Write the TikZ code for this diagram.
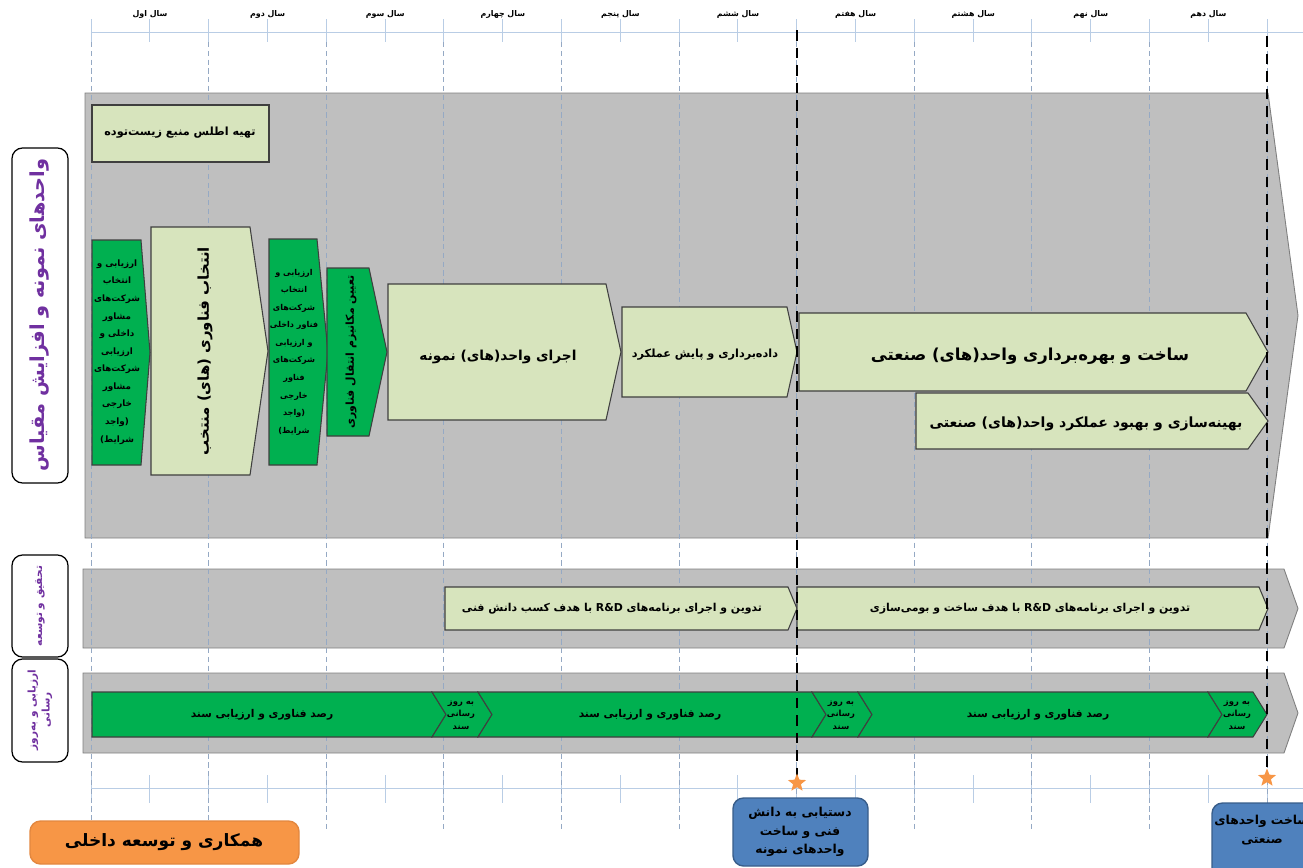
\documentclass[tikz,border=0pt]{standalone}
\usepackage{fontspec}
\newfontfamily\arabicfont[Script=Arabic]{DejaVu Sans}
\TeXXeTstate=1
\usetikzlibrary{shapes.geometric}

\definecolor{panelgray}{HTML}{BFBFBF}
\definecolor{panelline}{HTML}{7F7F7F}
\definecolor{lightgreen}{HTML}{D7E4BD}
\definecolor{stepgreen}{HTML}{00B050}
\definecolor{boxline}{HTML}{3F3F3F}
\definecolor{gridblue}{HTML}{B9CDE5}
\definecolor{gridline}{HTML}{95A9C4}
\definecolor{lanepurple}{HTML}{7030A0}
\definecolor{mileblue}{HTML}{4F81BD}
\definecolor{mileline}{HTML}{385D8A}
\definecolor{coopfill}{HTML}{F79646}
\definecolor{coopline}{HTML}{E3873F}

\newcommand{\rl}[1]{\beginR #1\endR}
\newcommand{\fz}[2]{\fontsize{#1}{#2}\selectfont}
% arrow panel: style, left, top, tip x, bottom, tip depth
\newcommand{\arrowshape}[6]{\filldraw[#1] (#2,#3) -- ({#4-#6},#3) -- (#4,{(#3+#5)/2}) -- ({#4-#6},#5) -- (#2,#5) -- cycle;}
% chevron: style, left, top, right, bottom, tip depth
\newcommand{\chevshape}[6]{\filldraw[#1] (#2,#3) -- (#4,#3) -- ({#4+#6},{(#3+#5)/2}) -- (#4,#5) -- (#2,#5) -- ({#2+#6},{(#3+#5)/2}) -- cycle;}

\tikzset{
  panel/.style={fill=panelgray, draw=panelline, line width=0.5pt},
  lightbox/.style={fill=lightgreen, draw=boxline, line width=0.6pt},
  greenbox/.style={fill=stepgreen, draw=boxline, line width=0.6pt},
  tick/.style={draw=gridblue, line width=0.5pt},
  gridline/.style={draw=gridline, line width=0.4pt, dash pattern=on 3pt off 2pt},
  milestone/.style={draw=black, line width=1.4pt, dash pattern=on 6pt off 4pt},
  txt/.style={font=\arabicfont\bfseries, align=center, inner sep=0pt},
  lanebox/.style={draw=black, fill=white, line width=0.7pt, rounded corners=6pt},
  lanetxt/.style={txt, text=lanepurple, rotate=90},
}

\begin{document}
\begin{tikzpicture}[x=0.02cm, y=-0.02cm]
  \useasboundingbox (0,0) rectangle (1303,867);
  \clip (0,0) rectangle (1303,867);

  % gray lanes
  \arrowshape{panel}{85}{93}{1298}{538}{30}
  \arrowshape{panel}{83}{569}{1298}{648}{14}
  \arrowshape{panel}{83}{673}{1298}{753}{14}

  % time ruler
  \draw[tick] (91,32) -- (1303,32);
  \draw[tick] (91,788) -- (1303,788);
  \foreach \k in {0,...,20} {
    \draw[tick] ({91+58.8*\k},19) -- ({91+58.8*\k},42);
    \draw[tick] ({91+58.8*\k},775) -- ({91+58.8*\k},803);
  }
  \foreach \k in {0,...,10}
    \draw[gridline] ({91+117.6*\k},42) -- ({91+117.6*\k},830);
  \foreach \k/\yr in {0/سال اول, 1/سال دوم, 2/سال سوم, 3/سال چهارم, 4/سال پنجم,
      5/سال ششم, 6/سال هفتم, 7/سال هشتم, 8/سال نهم, 9/سال دهم}
    \node[txt, font=\arabicfont\bfseries\fz{4.5}{6}] (year\k) at ({150+117.6*\k},14) {\rl{\yr}};

  % pilot and scale-up lane
  \filldraw[lightbox] (92,105) rectangle (269,162);
  \node[txt, font=\arabicfont\bfseries\fz{6.4}{8}] (atlas) at (180,133) {\rl{تهیه اطلس منبع زیست‌توده}};

  \arrowshape{greenbox}{92}{240}{150}{465}{9}
  \node[txt, font=\arabicfont\bfseries\fz{5}{10}] (consult) at (117,352)
    {\rl{ارزیابی و}\\\rl{انتخاب}\\\rl{شرکت‌های}\\\rl{مشاور}\\\rl{داخلی و}\\\rl{ارزیابی}\\\rl{شرکت‌های}\\\rl{مشاور}\\\rl{خارجی}\\\rl{(واجد}\\\rl{شرایط)}};

  \arrowshape{lightbox}{151}{227}{268}{475}{18}
  \node[txt, rotate=90, font=\arabicfont\bfseries\fz{8.5}{10}] (techsel) at (205,351) {\rl{انتخاب فناوری (های) منتخب}};

  \arrowshape{greenbox}{269}{239}{328}{465}{11}
  \node[txt, font=\arabicfont\bfseries\fz{4.6}{10}] (vendor) at (294,352)
    {\rl{ارزیابی و}\\\rl{انتخاب}\\\rl{شرکت‌های}\\\rl{فناور داخلی}\\\rl{و ارزیابی}\\\rl{شرکت‌های}\\\rl{فناور}\\\rl{خارجی}\\\rl{(واجد}\\\rl{شرایط)}};

  \arrowshape{greenbox}{327}{268}{387}{436}{18}
  \node[txt, rotate=90, font=\arabicfont\bfseries\fz{6.2}{8}] (transfer) at (351,352) {\rl{تعیین مکانیزم انتقال فناوری}};

  \arrowshape{lightbox}{388}{284}{621}{420}{15}
  \node[txt, font=\arabicfont\bfseries\fz{7.8}{10}] (pilot) at (498,357) {\rl{اجرای واحد(های) نمونه}};

  \arrowshape{lightbox}{622}{307}{797}{397}{10}
  \node[txt, font=\arabicfont\bfseries\fz{6.4}{8}] (monitor) at (705,355) {\rl{داده‌برداری و پایش عملکرد}};

  \arrowshape{lightbox}{799}{313}{1268}{391}{22}
  \node[txt, font=\arabicfont\bfseries\fz{9.4}{11}] (build) at (1030,356) {\rl{ساخت و بهره‌برداری واحد(های) صنعتی}};

  \arrowshape{lightbox}{916}{393}{1268}{449}{20}
  \node[txt, font=\arabicfont\bfseries\fz{8}{10}] (optim) at (1086,424) {\rl{بهینه‌سازی و بهبود عملکرد واحد(های) صنعتی}};

  % R&D lane
  \arrowshape{lightbox}{445}{587}{797}{630}{9}
  \node[txt, font=\arabicfont\bfseries\fz{6.2}{8}] (rdknow) at (612,609) {\rl{تدوین و اجرای برنامه‌های \beginL R\&D\endL{} با هدف کسب دانش فنی}};
  \arrowshape{lightbox}{797}{587}{1268}{630}{9}
  \node[txt, font=\arabicfont\bfseries\fz{6.2}{8}] (rdlocal) at (1030,609) {\rl{تدوین و اجرای برنامه‌های \beginL R\&D\endL{} با هدف ساخت و بومی‌سازی}};

  % assessment lane
  \arrowshape{greenbox}{92}{692}{446}{737}{14}
  \chevshape{greenbox}{432}{692}{478}{737}{14}
  \chevshape{greenbox}{478}{692}{812}{737}{14}
  \chevshape{greenbox}{812}{692}{858}{737}{14}
  \chevshape{greenbox}{858}{692}{1208}{737}{14}
  \chevshape{greenbox}{1208}{692}{1253}{737}{14}
  \node[txt, font=\arabicfont\bfseries\fz{6.1}{8}] (scanA) at (262,715) {\rl{رصد فناوری و ارزیابی سند}};
  \node[txt, font=\arabicfont\bfseries\fz{6.1}{8}] (scanB) at (650,715) {\rl{رصد فناوری و ارزیابی سند}};
  \node[txt, font=\arabicfont\bfseries\fz{6.1}{8}] (scanC) at (1038,715) {\rl{رصد فناوری و ارزیابی سند}};
  \foreach \cx [count=\n] in {461, 841, 1237}
    \node[txt, font=\arabicfont\bfseries\fz{4.8}{7}] (update\n) at (\cx,715) {\rl{به روز}\\\rl{رسانی}\\\rl{سند}};

  % milestone lines
  \draw[milestone] (797,30) -- (797,783);
  \draw[milestone] (1267,36) -- (1267,778);
  \node[star, star points=5, star point ratio=2.3, fill=coopfill, inner sep=0pt, minimum size=0.38cm] (starA) at (797,783) {};
  \node[star, star points=5, star point ratio=2.3, fill=coopfill, inner sep=0pt, minimum size=0.38cm] (starB) at (1267,778) {};

  \filldraw[fill=mileblue, draw=mileline, line width=0.8pt, rounded corners=6pt] (733,798) rectangle (868,866);
  \node[txt, font=\arabicfont\bfseries\fz{7}{10.5}] (knowhow) at (800,832) {\rl{دستیابی به دانش}\\\rl{فنی و ساخت}\\\rl{واحدهای نمونه}};
  \filldraw[fill=mileblue, draw=mileline, line width=0.8pt, rounded corners=6pt] (1212,803) rectangle (1340,880);
  \node[txt, font=\arabicfont\bfseries\fz{7}{10.5}] (industrial) at (1262,830) {\rl{ساخت واحدهای}\\\rl{صنعتی}};

  % lane titles
  \filldraw[lanebox] (12,148) rectangle (68,483);
  \node[lanetxt, font=\arabicfont\bfseries\fz{11}{13}] (laneA) at (40,315) {\rl{واحدهای نمونه و افزایش مقیاس}};
  \filldraw[lanebox] (12,555) rectangle (68,657);
  \node[lanetxt, font=\arabicfont\bfseries\fz{6}{8}] (laneB) at (40,606) {\rl{تحقیق و توسعه}};
  \filldraw[lanebox] (12,659) rectangle (68,762);
  \node[lanetxt, font=\arabicfont\bfseries\fz{6}{8}] (laneC) at (40,710) {\rl{ارزیابی و به‌روز}\\\rl{رسانی}};

  % cooperation box
  \filldraw[fill=coopfill, draw=coopline, line width=0.8pt, rounded corners=6pt] (30,821) rectangle (299,864);
  \node[txt, font=\arabicfont\bfseries\fz{9.7}{12}] (coop) at (164,842) {\rl{همکاری و توسعه داخلی}};
\end{tikzpicture}
\end{document}
